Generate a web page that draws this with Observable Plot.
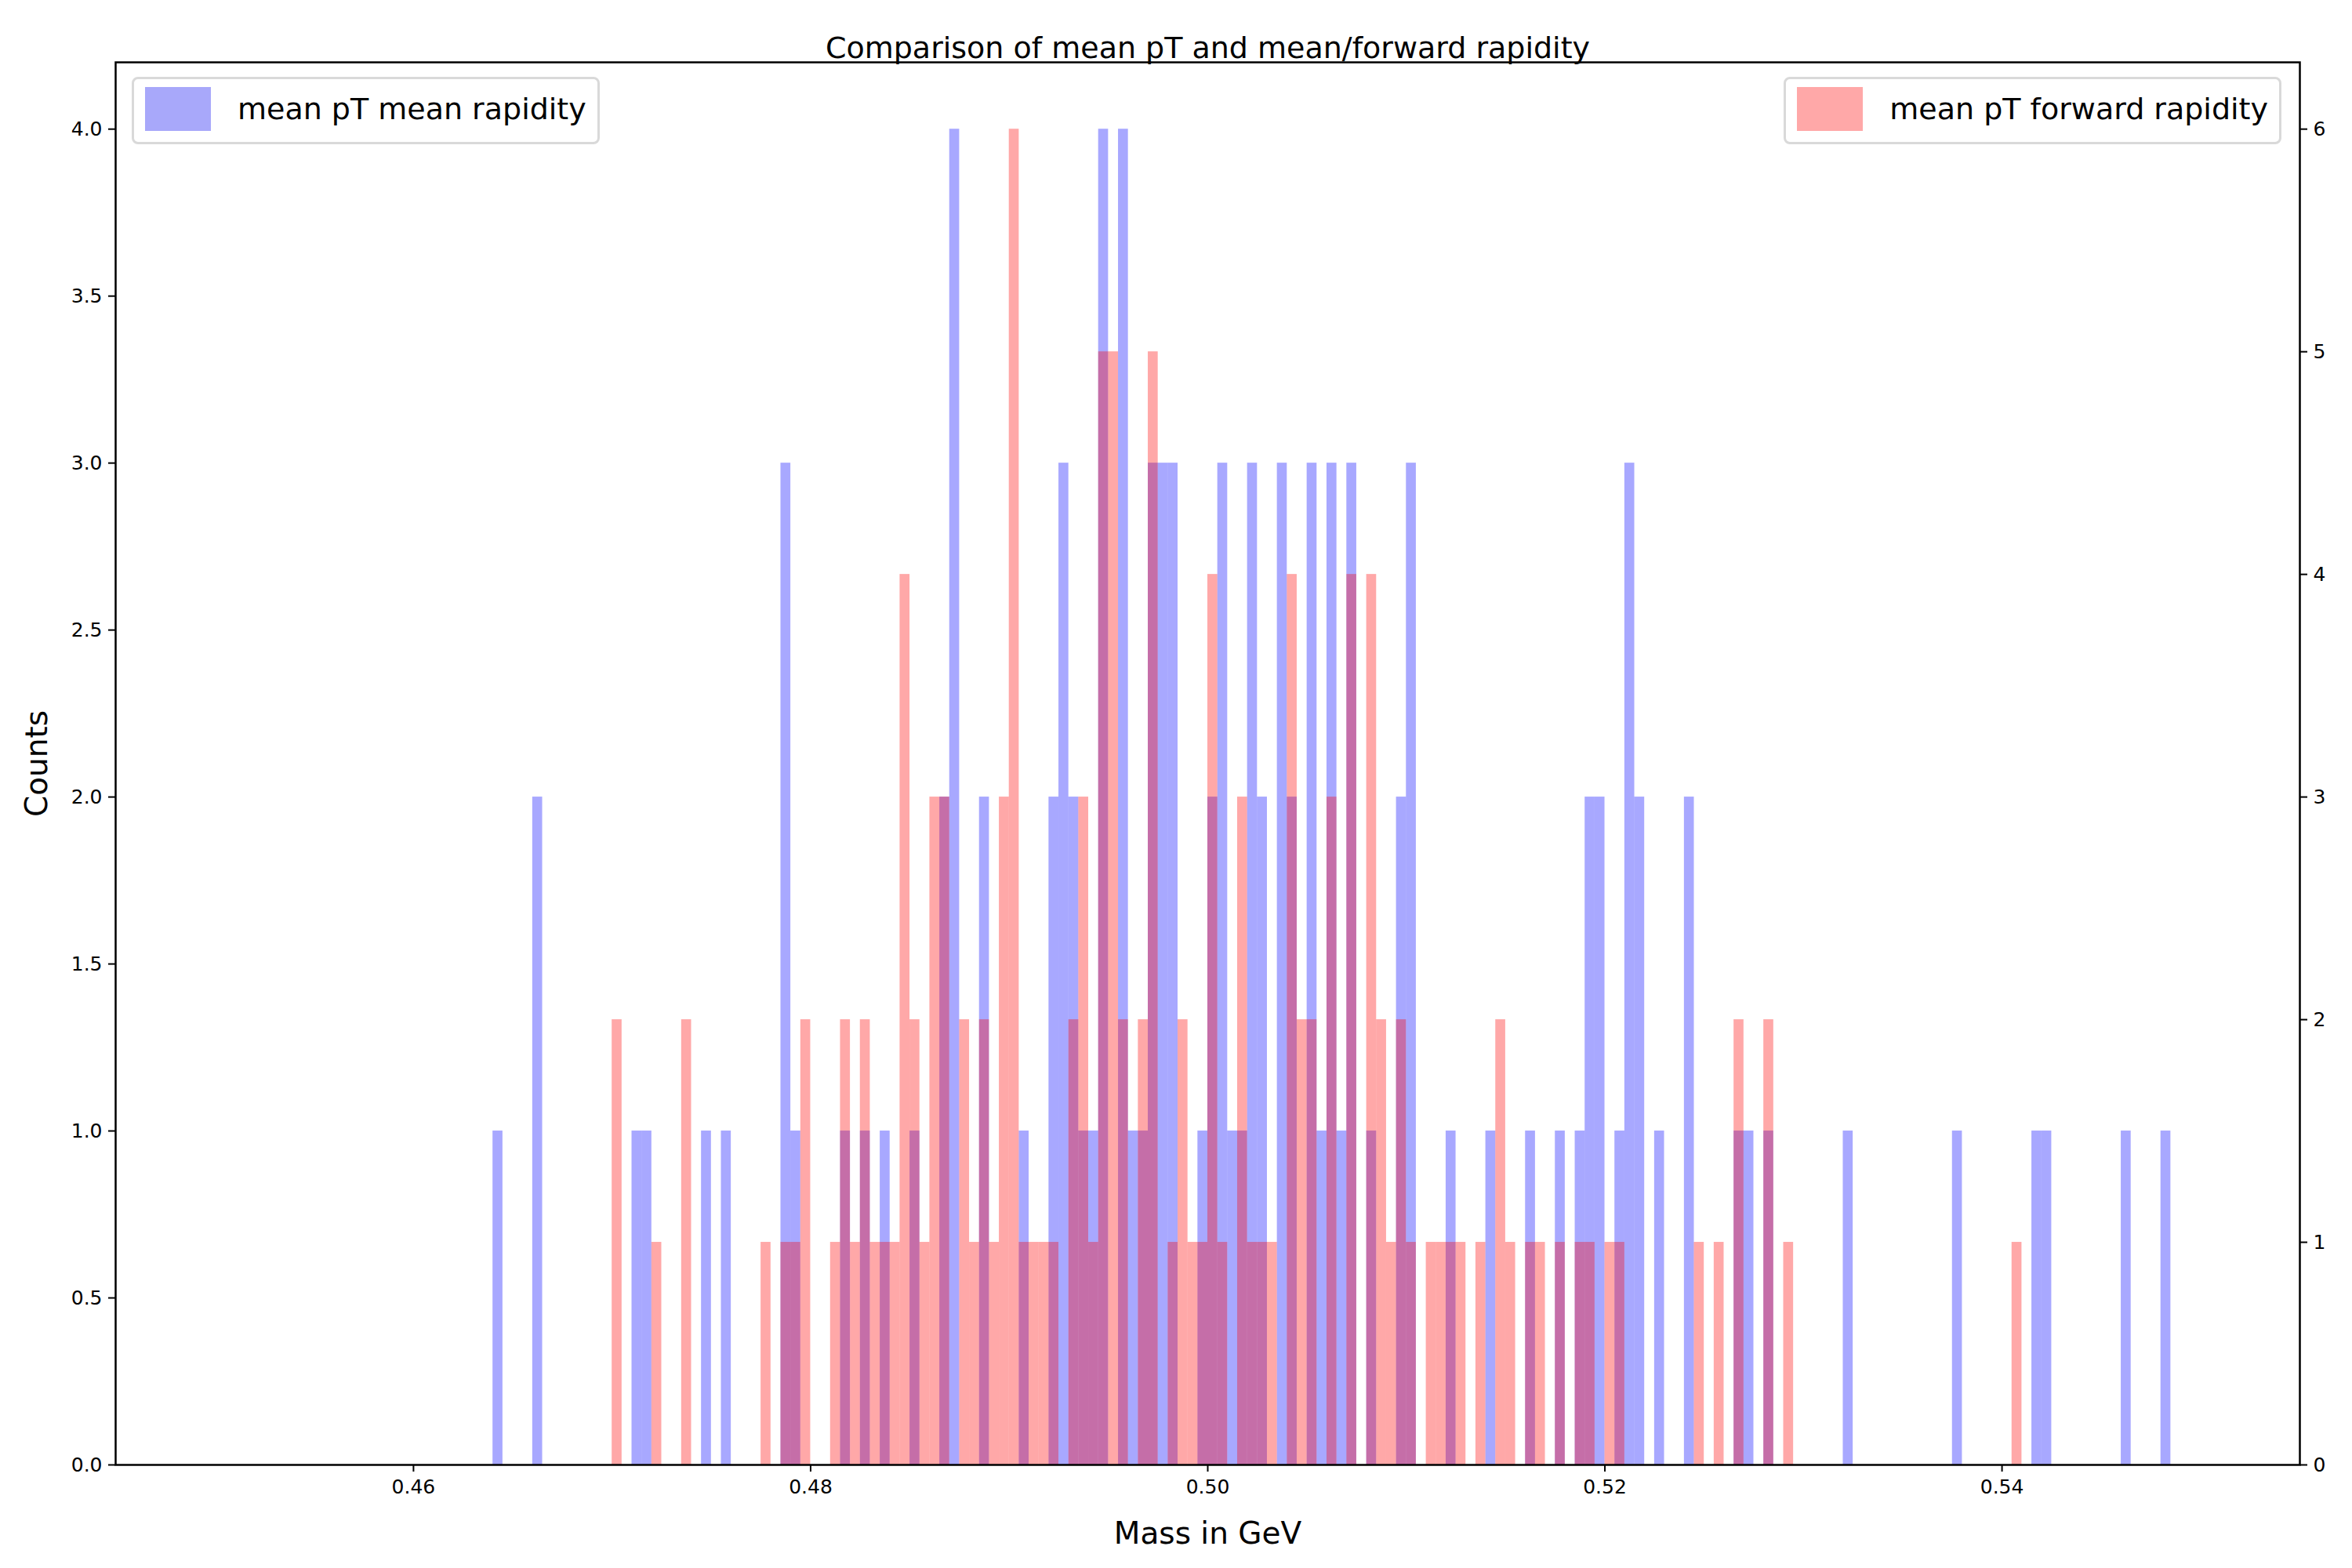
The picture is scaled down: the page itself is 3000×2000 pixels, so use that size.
<!DOCTYPE html>
<html>
<head>
<meta charset="utf-8">
<script src="https://cdn.jsdelivr.net/npm/d3@7"></script>
<script src="https://cdn.jsdelivr.net/npm/@observablehq/plot@0.6"></script>
<style>
  body { margin: 0; background: white; font-family: "DejaVu Sans", sans-serif; }
  #wrap { position: relative; width: 3000px; height: 2000px; }
  .legend { position: absolute; top: 98px; border: 3px solid #d9d9d9; border-radius: 8px; background: rgba(255,255,255,0.8);
    font-size: 38px; padding: 10px 14px 14px 14px; display: flex; align-items: center; }
  .sw { width: 84px; height: 56px; margin-right: 34px; display: inline-block; }
</style>
</head>
<body>
<div id="wrap"></div>
<script>
// left edges of histogram bins (GeV) and counts
const meanMass = [0.4640, 0.4660, 0.4710, 0.4715, 0.4745, 0.4755, 0.4785, 0.4790, 0.4815, 0.4825, 0.4835, 0.4850,
  0.4865, 0.4870, 0.4885, 0.4905, 0.4920, 0.4925, 0.4930, 0.4935, 0.4940, 0.4945, 0.4955, 0.4960, 0.4965, 0.4970,
  0.4975, 0.4980, 0.4995, 0.5000, 0.5005, 0.5010, 0.5015, 0.5020, 0.5025, 0.5035, 0.5040, 0.5050, 0.5055, 0.5060,
  0.5065, 0.5070, 0.5080, 0.5095, 0.5100, 0.5120, 0.5140, 0.5160, 0.5175, 0.5185, 0.5190, 0.5195, 0.5205, 0.5210,
  0.5215, 0.5225, 0.5240, 0.5265, 0.5270, 0.5280, 0.5320, 0.5375, 0.5415, 0.5420, 0.5460, 0.5480];
const meanCounts = [1, 2, 1, 1, 1, 1, 3, 1, 1, 1, 1, 1,
  2, 4, 2, 1, 2, 3, 2, 1, 1, 4, 4, 1, 1, 3,
  3, 3, 1, 2, 3, 1, 1, 3, 2, 3, 2, 3, 1, 3,
  1, 3, 1, 2, 3, 1, 1, 1, 1, 1, 2, 2, 1, 3,
  2, 1, 2, 1, 1, 1, 1, 1, 1, 1, 1, 1];
const fwdMass = [0.4700, 0.4720, 0.4735, 0.4775, 0.4785, 0.4790, 0.4795, 0.4810, 0.4815, 0.4820, 0.4825, 0.4830,
  0.4835, 0.4840, 0.4845, 0.4850, 0.4855, 0.4860, 0.4865, 0.4875, 0.4880, 0.4885, 0.4890, 0.4895, 0.4900, 0.4905,
  0.4910, 0.4915, 0.4920, 0.4930, 0.4935, 0.4940, 0.4945, 0.4950, 0.4955, 0.4965, 0.4970, 0.4980, 0.4985, 0.4990,
  0.4995, 0.5000, 0.5005, 0.5015, 0.5020, 0.5025, 0.5030, 0.5040, 0.5045, 0.5050, 0.5060, 0.5070, 0.5080, 0.5085,
  0.5090, 0.5095, 0.5100, 0.5110, 0.5115, 0.5120, 0.5125, 0.5135, 0.5145, 0.5150, 0.5160, 0.5165, 0.5175, 0.5185,
  0.5190, 0.5200, 0.5205, 0.5245, 0.5255, 0.5265, 0.5280, 0.5290, 0.5405];
const fwdCounts = [2, 1, 2, 1, 1, 1, 2, 1, 2, 1, 2, 1,
  1, 1, 4, 2, 1, 3, 3, 2, 1, 2, 1, 3, 6, 1,
  1, 1, 1, 2, 3, 1, 5, 5, 2, 2, 5, 1, 2, 1,
  1, 4, 1, 3, 1, 1, 1, 4, 2, 2, 3, 4, 4, 2,
  1, 2, 1, 1, 1, 1, 1, 1, 2, 1, 1, 1, 1, 1,
  1, 1, 1, 1, 1, 2, 2, 1, 1];
const leftTicks = [0, 0.5, 1, 1.5, 2, 2.5, 3, 3.5, 4];
const rightTicks = [0, 1, 2, 3, 4, 5, 6];
const xTicks = [0.46, 0.48, 0.50, 0.52, 0.54];

const binW = 0.0005;
const k = 1.5; // right axis (0-6.3) vs left axis (0-4.2)
const blue = meanMass.map((m, i) => ({ x1: m, x2: m + binW, y: meanCounts[i] }));
const red = fwdMass.map((m, i) => ({ x1: m, x2: m + binW, y: fwdCounts[i] / k }));

const plot = Plot.plot({
  width: 3000,
  height: 2000,
  marginLeft: 147,
  marginRight: 67,
  marginTop: 79,
  marginBottom: 132,
  style: { fontFamily: "DejaVu Sans", fontSize: "25px", background: "white" },
  x: { domain: [0.445, 0.555] },
  y: { domain: [0, 4.2] },
  marks: [
    Plot.rectY(blue, { x1: "x1", x2: "x2", y: "y", fill: "blue", fillOpacity: 0.34, inset: 0 }),
    Plot.rectY(red, { x1: "x1", x2: "x2", y: "y", fill: "red", fillOpacity: 0.34, inset: 0 }),
    Plot.axisX({ ticks: xTicks, tickFormat: d3.format(".2f"), tickSize: 9, tickPadding: 10, strokeWidth: 2,
      label: "Mass in GeV", labelAnchor: "center", labelArrow: "none", labelOffset: 100, fontSize: 25 }),
    Plot.axisY({ anchor: "left", ticks: leftTicks, tickFormat: d3.format(".1f"), tickSize: 9, tickPadding: 8, strokeWidth: 2,
      label: "Counts", labelAnchor: "center", labelArrow: "none", labelOffset: 115 }),
    Plot.axisY({ anchor: "right", ticks: rightTicks.map((t) => t / k), tickFormat: (d) => String(Math.round(d * k)),
      tickSize: 9, tickPadding: 8, strokeWidth: 2, label: null }),
    Plot.frame({ stroke: "black", strokeWidth: 2.5 }),
    Plot.text(["Comparison of mean pT and mean/forward rapidity"], { frameAnchor: "top", dy: -32, fontSize: 38, fill: "black" })
  ]
});
d3.select(plot).selectAll("[aria-label='x-axis label'] text, [aria-label='y-axis label'] text").style("font-size", "39px");
const wrap = document.getElementById("wrap");
wrap.appendChild(plot);
wrap.insertAdjacentHTML("beforeend",
  `<div class="legend" style="left:168px"><span class="sw" style="background:#a8a8fa"></span>mean pT mean rapidity</div>
   <div class="legend" style="right:90px"><span class="sw" style="background:#ffa8a8"></span>mean pT forward rapidity</div>`);
</script>
</body>
</html>
